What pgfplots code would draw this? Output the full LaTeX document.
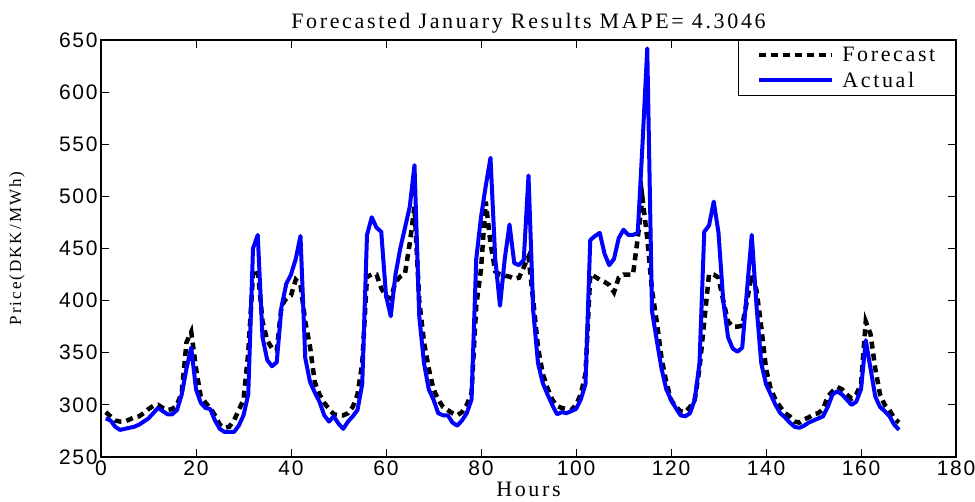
\documentclass[border=0pt]{standalone}
\usepackage{fontspec}
\setmainfont{Liberation Serif}[LetterSpace=12]
\newfontfamily\arialf{Liberation Sans}[LetterSpace=8]
\usepackage{pgfplots}
\pgfplotsset{compat=1.18}
\definecolor{mblue}{RGB}{0,0,255}
\begin{document}
\begin{tikzpicture}
\path[use as bounding box] (-101pt,-45pt) rectangle (874pt,457pt);
\begin{axis}[
  scale only axis, width=855pt, height=417pt,
  xmin=0, xmax=180, ymin=250, ymax=650,
  xtick={0,20,...,180}, ytick={250,300,...,650},
  tick align=inside, major tick length=8pt,
  axis line style={line width=1.6pt},
  tick style={line width=0.9pt, black},
  ticklabel style={font=\arialf\fontsize{21}{21}\selectfont},
  /pgf/number format/assume math mode=true,
  xlabel={Hours},
  xlabel style={at={(axis description cs:0.5,0)}, anchor=north, yshift=-25pt, inner sep=0pt, font=\fontsize{22}{22}\selectfont},
  ylabel={Price(DKK/MWh)},
  ylabel style={at={(axis description cs:-0.0982,0.5)}, anchor=center, inner sep=0pt, font=\fontsize{17}{17}\selectfont},
  title={Forecasted January Results MAPE= 4.3046},
  title style={at={(axis description cs:0.5,1)}, anchor=base, yshift=5pt, inner sep=0pt, font=\fontsize{22}{22}\selectfont},
  legend style={at={(axis description cs:1,1)}, anchor=north east, draw=black, line width=1.3pt,
    font=\fontsize{22}{22}\selectfont, inner xsep=18pt, inner ysep=4.5pt, row sep=5pt, column sep=6pt,
    nodes={inner sep=2pt}},
  legend cell align=left,
  legend image code/.code={\draw[#1] (0pt,0pt) -- (73pt,0pt);},
]
\addplot[black, line width=4.5pt, dash pattern=on 7pt off 5pt] coordinates {
(1,293)(2,289)(3,285)(4,284)(5,284)(6,286)(7,288)(8,289)(9,292)(10,296)
(11,299)(12,300)(13,297)(14,295)(15,296)(16,300)(17,312)(18,360)(19,370)(20,335)
(21,308)(22,302)(23,297)(24,290)(25,281)(26,278)(27,279)(28,285)(29,295)(30,305)
(31,350)(32,425)(33,430)(34,380)(35,362)(36,354)(37,352)(38,395)(39,402)(40,405)
(41,420)(42,415)(43,380)(44,356)(45,322)(46,310)(47,302)(48,296)(49,291)(50,290)
(51,290)(52,292)(53,298)(54,310)(55,340)(56,423)(57,425)(58,425)(59,412)(60,404)
(61,402)(62,418)(63,423)(64,426)(65,455)(66,490)(67,400)(68,360)(69,335)(70,315)
(71,305)(72,298)(73,295)(74,292)(75,290)(76,293)(77,300)(78,311)(79,395)(80,430)
(81,495)(82,455)(83,428)(84,425)(85,424)(86,423)(87,421)(88,422)(89,432)(90,442)
(91,400)(92,355)(93,330)(94,316)(95,305)(96,299)(97,297)(98,296)(99,295)(100,300)
(101,310)(102,330)(103,425)(104,423)(105,420)(106,418)(107,415)(108,408)(109,422)(110,425)
(111,425)(112,425)(113,460)(114,498)(115,460)(116,410)(117,380)(118,345)(119,322)(120,305)
(121,298)(122,294)(123,293)(124,298)(125,305)(126,335)(127,380)(128,425)(129,425)(130,422)
(131,400)(132,380)(133,375)(134,375)(135,376)(136,400)(137,425)(138,410)(139,375)(140,335)
(141,315)(142,305)(143,298)(144,292)(145,289)(146,284)(147,283)(148,286)(149,288)(150,291)
(151,292)(152,296)(153,308)(154,313)(155,317)(156,315)(157,310)(158,306)(159,310)(160,320)
(161,380)(162,368)(163,335)(164,310)(165,300)(166,295)(167,287)(168,283)
};
\addlegendentry{Forecast}
\addplot[mblue, line width=4pt, line join=round] coordinates {
(1,287)(2,285)(3,279)(4,276)(5,277)(6,278)(7,279)(8,281)(9,284)(10,287)
(11,292)(12,297)(13,294)(14,291)(15,291)(16,295)(17,310)(18,335)(19,355)(20,315)
(21,302)(22,297)(23,296)(24,285)(25,277)(26,274)(27,274)(28,274)(29,280)(30,290)
(31,310)(32,450)(33,463)(34,365)(35,343)(36,337)(37,341)(38,394)(39,416)(40,425)
(41,440)(42,462)(43,345)(44,322)(45,312)(46,303)(47,290)(48,284)(49,289)(50,282)
(51,277)(52,284)(53,289)(54,295)(55,320)(56,463)(57,480)(58,470)(59,466)(60,405)
(61,385)(62,425)(63,450)(64,470)(65,490)(66,530)(67,385)(68,340)(69,315)(70,305)
(71,292)(72,290)(73,290)(74,283)(75,280)(76,285)(77,292)(78,305)(79,440)(80,480)
(81,510)(82,537)(83,440)(84,395)(85,440)(86,473)(87,436)(88,434)(89,439)(90,520)
(91,390)(92,340)(93,321)(94,310)(95,300)(96,291)(97,293)(98,292)(99,294)(100,296)
(101,305)(102,320)(103,458)(104,462)(105,465)(106,445)(107,434)(108,440)(109,460)(110,468)
(111,463)(112,463)(113,465)(114,550)(115,642)(116,390)(117,362)(118,335)(119,315)(120,305)
(121,297)(122,290)(123,289)(124,292)(125,305)(126,340)(127,466)(128,472)(129,495)(130,465)
(131,400)(132,365)(133,354)(134,351)(135,355)(136,410)(137,463)(138,395)(139,340)(140,320)
(141,310)(142,300)(143,292)(144,288)(145,283)(146,279)(147,278)(148,280)(149,283)(150,285)
(151,287)(152,289)(153,298)(154,310)(155,313)(156,310)(157,305)(158,300)(159,303)(160,315)
(161,362)(162,335)(163,308)(164,298)(165,294)(166,289)(167,281)(168,276)
};
\addlegendentry{Actual}
\end{axis}
\end{tikzpicture}
\end{document}
